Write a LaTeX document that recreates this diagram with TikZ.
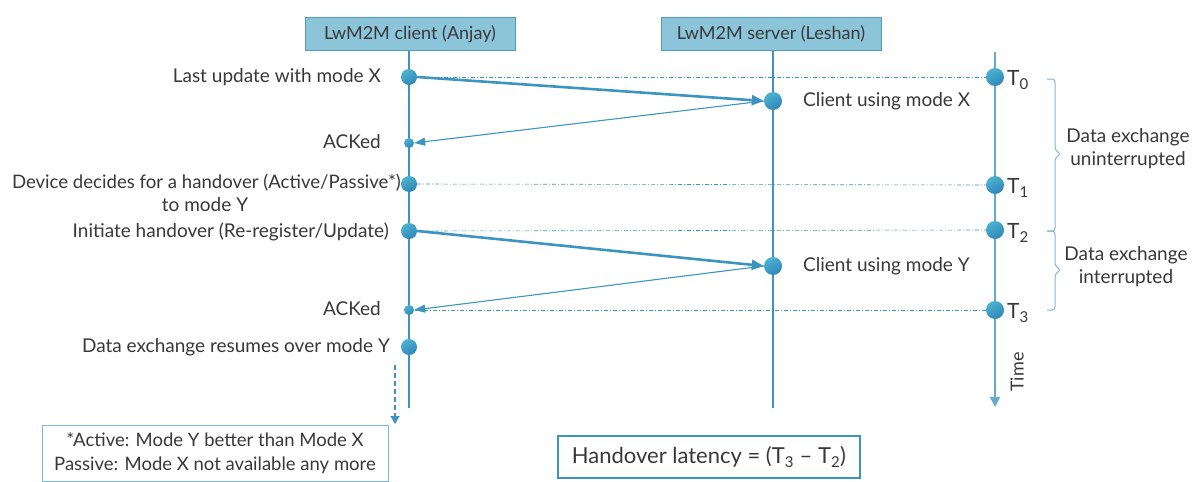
\documentclass[tikz,border=0pt]{standalone}
\usepackage{fontspec}
\setmainfont{Lato}
\usetikzlibrary{arrows.meta}
\definecolor{boxfill}{HTML}{8CC5DA}
\definecolor{boxline}{HTML}{4C9DC2}
\definecolor{lline}{HTML}{3C95C0}
\definecolor{dotlight}{HTML}{4DB3D0}
\definecolor{dotdark}{HTML}{2F86B9}
\definecolor{txt}{HTML}{383838}
\definecolor{timec}{HTML}{7DBAD6}
\tikzset{
  lbl/.style={font=\fontsize{19}{23}\selectfont, text=txt, inner sep=0pt},
  tlbl/.style={font=\fontsize{21}{24}\selectfont, text=txt, inner sep=0pt, anchor=west},
  hdr/.style={draw=boxline, fill=boxfill, line width=1pt, minimum height=33pt, font=\fontsize{18}{20}\selectfont, text=txt, inner sep=0pt},
  life/.style={draw=lline, line width=2.4pt},
  bigdot/.style={circle, inner sep=0pt, minimum size=16pt, top color=dotlight, bottom color=dotdark, shading angle=30, draw=none},
  srvdot/.style={bigdot, minimum size=18pt},
  smalldot/.style={bigdot, minimum size=10pt},
  tdot/.style={bigdot, minimum size=18pt},
  dashdotline/.style={draw=lline, line width=0.6pt, dash pattern=on 4pt off 2pt on 1pt off 2pt},
  msg/.style={draw=lline, line width=2.6pt, -{Triangle[length=12pt,width=10pt]}},
  ack/.style={draw=lline, line width=1.1pt, -{Triangle[length=11pt,width=8pt]}},
  brace/.style={draw=timec, line width=1pt, rounded corners=3pt},
}
\begin{document}
\begin{tikzpicture}[x=1pt,y=-1pt]
\useasboundingbox (0,0) rectangle (1195,482);

% headers
\node[hdr, minimum width=210pt] (cl) at (410,34) {LwM2M client (Anjay)};
\node[hdr, minimum width=220pt] (sv) at (771,34) {LwM2M server (Leshan)};
\coordinate (clend) at (409,408);
\coordinate (svend) at (773,408);
\draw[life] (cl.south -| clend) -- (clend);
\draw[life] (sv.south -| svend) -- (svend);

% time axis
\coordinate (ttop) at (995,52);
\coordinate (tend) at (995,407);
\draw[draw=timec, line width=1.6pt, -{Triangle[length=10pt,width=10pt]}, color=lline!80] (ttop) -- (tend);
\node[lbl, rotate=90, font=\fontsize{18}{20}\selectfont] (time) at (1017,372) {Time};

% dots
\node[bigdot] (c1) at (409,77) {};
\node[srvdot] (s1) at (773,101) {};
\node[smalldot] (c2) at (409,143) {};
\node[bigdot] (c3) at (409,184) {};
\node[bigdot] (c4) at (409,231) {};
\node[srvdot] (s2) at (773,266) {};
\node[smalldot] (c5) at (409,310) {};
\node[bigdot] (c6) at (409,347) {};
\node[tdot] (t0) at (995,77) {};
\node[tdot] (t1) at (995,185) {};
\node[tdot] (t2) at (995,230) {};
\node[tdot] (t3) at (995,310) {};

% dash-dot lines
\draw[dashdotline] (c1.east) -- (t0.west);
\draw[dashdotline] (c3.east) -- (t1.west);
\draw[dashdotline] (c4.east) -- (t2.west);
\draw[dashdotline] (t3.west) -- (c5.east);

% messages
\draw[msg] (c1.east) -- (s1.west);
\draw[ack] (s1.west) -- (c2.east);
\draw[msg] (c4.east) -- (s2.west);
\draw[ack] (s2.west) -- (c5.east);

% left labels
\node[lbl, anchor=east] (l1) at (381,77) {Last update with mode X};
\node[lbl, anchor=east] (l2) at (381,142) {ACKed};
\node[lbl, anchor=east, font=\fontsize{18.6}{23}\selectfont] (l3) at (401,183) {Device decides for a handover (Active/Passive*)};
\node[lbl] (l3b) at (205,205) {to mode Y};
\node[lbl, anchor=east] (l4) at (389,232) {Initiate handover (Re-register/Update)};
\node[lbl, anchor=east] (l5) at (381,309) {ACKed};
\node[lbl, anchor=east] (l6) at (390,347) {Data exchange resumes over mode Y};

% right labels
\node[lbl, anchor=west] (r1) at (803,101) {Client using mode X};
\node[lbl, anchor=west] (r2) at (803,266) {Client using mode Y};

% T labels
\node[tlbl] (T0) at (1007,80) {T\textsubscript{\fontsize{15}{15}\selectfont 0}};
\node[tlbl] (T1) at (1007,188) {T\textsubscript{\fontsize{15}{15}\selectfont 1}};
\node[tlbl] (T2) at (1007,233) {T\textsubscript{\fontsize{15}{15}\selectfont 2}};
\node[tlbl] (T3) at (1007,313) {T\textsubscript{\fontsize{15}{15}\selectfont 3}};

% braces
\draw[brace] (1047,79) -- (1055,79) -- (1055,150) -- (1061,154) -- (1055,158) -- (1055,231) -- (1047,231);
\draw[brace] (1047,231) -- (1055,231) -- (1055,266) -- (1061,270) -- (1055,274) -- (1055,310) -- (1047,310);
\node[lbl, align=center] (b1) at (1128,149) {Data exchange\\uninterrupted};
\node[lbl, align=center] (b2) at (1126,267) {Data exchange\\interrupted};

% dashed arrow to footnote
\coordinate (da) at (395,365);
\coordinate (db) at (395,424);
\draw[draw=lline, line width=1.6pt, dash pattern=on 5pt off 3pt, -{Triangle[length=8pt,width=9pt]}] (da) -- (db);

% footnote box
\node[draw=timec, line width=1pt, minimum width=346pt, minimum height=56pt, inner sep=0pt] (fn) at (215,453) {};
\node[lbl, align=center, font=\fontsize{18.5}{24}\selectfont] (fnt) at (215,453) {*Active: Mode Y better than Mode X\\Passive: Mode X not available any more};

% latency box
\node[draw=lline, line width=2.4pt, minimum width=302pt, minimum height=42pt, inner sep=0pt, font=\fontsize{22}{24}\selectfont, text=txt] (lat) at (709,457) {Handover latency = (T\textsubscript{\fontsize{15}{15}\selectfont 3} -- T\textsubscript{\fontsize{15}{15}\selectfont 2})};
\end{tikzpicture}
\end{document}
